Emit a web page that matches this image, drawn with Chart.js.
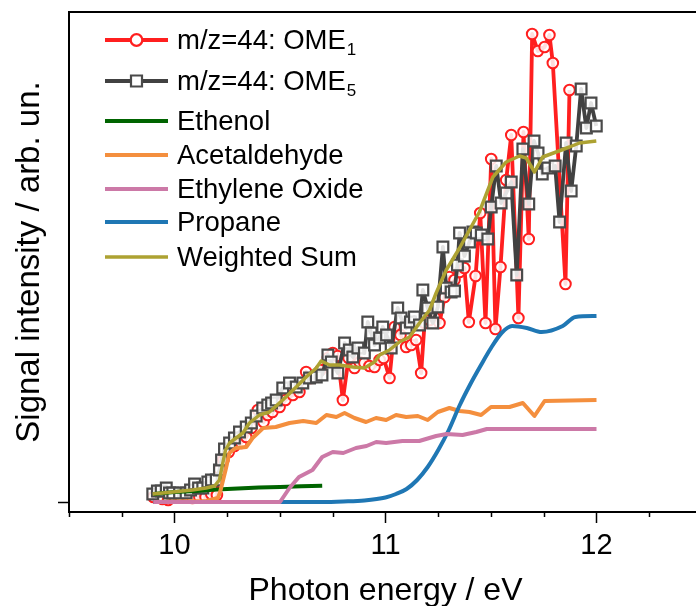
<!DOCTYPE html>
<html>
<head>
<meta charset="utf-8">
<script src="https://cdn.jsdelivr.net/npm/chart.js@4.4.0/dist/chart.umd.min.js"></script>
<style>
  html, body { margin: 0; padding: 0; background: #fff; overflow: hidden; }
  #grafico { display: block; }
</style>
</head>
<body>
<canvas id="grafico" width="720" height="606"></canvas>
<script>
const fonte = "'Liberation Sans', Arial, sans-serif";

// m/z=44 signal, OME1
const ome1Energy = [9.900, 9.922, 9.943, 9.970, 10.000, 10.028, 10.057, 10.085, 10.118, 10.147,
    10.174, 10.201, 10.213, 10.232, 10.257, 10.284, 10.316, 10.340, 10.365, 10.395,
    10.422, 10.442, 10.464, 10.498, 10.526, 10.561, 10.592, 10.624, 10.645, 10.664,
    10.692, 10.727, 10.750, 10.773, 10.798, 10.825, 10.853, 10.877, 10.900, 10.924,
    10.948, 10.972, 10.991, 11.019, 11.043, 11.071, 11.098, 11.122, 11.145, 11.169,
    11.185, 11.209, 11.232, 11.256, 11.280, 11.303, 11.327, 11.351, 11.374, 11.395,
    11.427, 11.449, 11.474, 11.501, 11.521, 11.545, 11.572, 11.596, 11.630, 11.654,
    11.679, 11.695, 11.722, 11.754, 11.777, 11.793, 11.853, 11.872];
const ome1Signal = [0.05, 0.05, 0.03, 0.02, 0.05, 0.05, 0.06, 0.04, 0.05, 0.05,
    0.08, 0.07, 0.33, 0.42, 0.50, 0.56, 0.59, 0.65, 0.74, 0.92,
    0.80, 0.87, 0.90, 0.95, 1.02, 1.07, 1.10, 1.30, 1.24, 1.25,
    1.32, 1.44, 1.49, 1.46, 1.02, 1.44, 1.34, 1.40, 1.39, 1.36,
    1.35, 1.42, 1.44, 1.24, 1.75, 1.67, 1.55, 1.57, 1.62, 1.29,
    1.79, 1.82, 1.85, 1.79, 2.05, 2.25, 2.22, 2.30, 2.34, 1.80,
    2.26, 2.89, 1.79, 3.43, 1.73, 2.35, 3.22, 3.67, 1.84, 3.70,
    2.63, 4.68, 4.51, 4.55, 4.67, 4.39, 2.18, 4.12];

// m/z=44 signal, OME5
const ome5Energy = [9.897, 9.919, 9.937, 9.961, 9.976, 9.992, 10.024, 10.055, 10.076, 10.095,
    10.114, 10.134, 10.158, 10.175, 10.198, 10.213, 10.223, 10.237, 10.261, 10.284,
    10.308, 10.340, 10.364, 10.387, 10.418, 10.442, 10.460, 10.482, 10.513, 10.545,
    10.577, 10.608, 10.640, 10.672, 10.699, 10.727, 10.743, 10.774, 10.806, 10.829,
    10.845, 10.869, 10.900, 10.916, 10.932, 10.948, 10.972, 10.987, 11.005, 11.027,
    11.058, 11.074, 11.098, 11.118, 11.137, 11.161, 11.177, 11.200, 11.224, 11.248,
    11.272, 11.288, 11.311, 11.327, 11.341, 11.351, 11.374, 11.398, 11.414, 11.430,
    11.454, 11.485, 11.501, 11.525, 11.548, 11.572, 11.596, 11.622, 11.651, 11.679,
    11.704, 11.723, 11.743, 11.769, 11.804, 11.825, 11.856, 11.880, 11.904, 11.927,
    11.952, 11.974, 11.999];
const ome5Signal = [0.08, 0.11, 0.11, 0.14, 0.09, 0.09, 0.09, 0.09, 0.12, 0.18,
    0.14, 0.14, 0.20, 0.22, 0.22, 0.32, 0.42, 0.53, 0.59, 0.64,
    0.70, 0.75, 0.79, 0.86, 0.94, 0.97, 0.99, 1.02, 1.14, 1.19,
    1.15, 1.19, 1.24, 1.25, 1.27, 1.47, 1.40, 1.29, 1.59, 1.52,
    1.45, 1.54, 1.49, 1.80, 1.69, 1.57, 1.64, 1.75, 1.67, 1.54,
    1.94, 1.84, 1.74, 1.80, 1.85, 1.77, 2.12, 1.94, 1.79, 1.95,
    2.55, 2.14, 2.10, 2.11, 2.37, 2.69, 2.46, 2.60, 2.70, 2.69,
    2.67, 2.63, 2.95, 3.36, 2.99, 3.09, 3.20, 2.27, 3.53, 2.98,
    3.61, 3.49, 3.28, 3.34, 3.36, 2.80, 3.59, 3.11, 3.56, 4.13,
    3.74, 3.99, 3.76];

// Referências
const ethenolEnergy = [9.9, 10.0, 10.1, 10.2, 10.3, 10.4, 10.5, 10.6, 10.7];
const ethenolSignal = [0.08, 0.10, 0.11, 0.125, 0.135, 0.145, 0.15, 0.157, 0.163];

const acetaldehydeEnergy = [9.9, 10.15, 10.205, 10.215, 10.242, 10.26, 10.29, 10.34, 10.37, 10.42,
    10.48, 10.545, 10.61, 10.672, 10.72, 10.767, 10.806, 10.853, 10.908, 10.955,
    11.003, 11.05, 11.098, 11.153, 11.2, 11.248, 11.303, 11.351, 11.398, 11.453,
    11.5, 11.588, 11.651, 11.706, 11.754, 12.0];
const acetaldehydeSignal = [0.00, 0.01, 0.04, 0.09, 0.32, 0.49, 0.54, 0.55, 0.64, 0.74,
    0.75, 0.79, 0.81, 0.79, 0.87, 0.85, 0.89, 0.84, 0.80, 0.84,
    0.82, 0.87, 0.85, 0.86, 0.82, 0.90, 0.94, 0.91, 0.90, 0.87,
    0.95, 0.95, 0.99, 0.86, 1.01, 1.02];

const ethyleneOxideEnergy = [9.9, 10.5, 10.545, 10.59, 10.654, 10.70, 10.75, 10.80, 10.86, 10.91,
    10.956, 11.003, 11.08, 11.16, 11.24, 11.29, 11.365, 11.43, 11.48, 11.55, 12.0];
const ethyleneOxideSignal = [0, 0, 0.14, 0.25, 0.32, 0.45, 0.50, 0.49, 0.54, 0.56,
    0.60, 0.59, 0.61, 0.61, 0.66, 0.68, 0.67, 0.70, 0.73, 0.73, 0.73];

const propaneEnergy = [9.9, 10.2, 10.5, 10.7, 10.8, 10.9, 11.0, 11.05, 11.1, 11.15,
    11.2, 11.25, 11.3, 11.35, 11.4, 11.45, 11.5, 11.55, 11.6, 11.67,
    11.74, 11.84, 11.9, 12.0];
const propaneSignal = [0, 0, 0, 0, 0.005, 0.015, 0.045, 0.08, 0.13, 0.22,
    0.35, 0.52, 0.72, 0.96, 1.17, 1.36, 1.54, 1.69, 1.76, 1.74,
    1.70, 1.76, 1.85, 1.86];

const sumEnergy = [9.896, 9.991, 10.085, 10.150, 10.190, 10.213, 10.229, 10.242, 10.261, 10.292,
    10.324, 10.355, 10.403, 10.450, 10.513, 10.577, 10.624, 10.672, 10.695, 10.735,
    10.782, 10.845, 10.900, 10.948, 10.972, 11.019, 11.066, 11.114, 11.161, 11.209,
    11.240, 11.288, 11.351, 11.398, 11.445, 11.509, 11.572, 11.635, 11.667, 11.706,
    11.745, 11.809, 11.872, 11.919, 11.999];
const sumSignal = [0.08, 0.10, 0.12, 0.14, 0.16, 0.22, 0.39, 0.52, 0.59, 0.64,
    0.69, 0.79, 0.87, 0.90, 1.02, 1.15, 1.25, 1.34, 1.41, 1.37,
    1.37, 1.35, 1.34, 1.40, 1.47, 1.52, 1.60, 1.65, 1.79, 1.92,
    2.09, 2.32, 2.54, 2.72, 2.90, 3.25, 3.40, 3.46, 3.44, 3.30,
    3.45, 3.50, 3.55, 3.59, 3.61];

// Nomes da legenda (texto + índice)
const seriesNames = ['m/z=44: OME', 'm/z=44: OME', 'Ethenol', 'Acetaldehyde', 'Ethylene Oxide', 'Propane', 'Weighted Sum'];
const seriesSubs = ['1', '5', '', '', '', '', ''];

// Eixos
const xMin = 9.5, xMax = 12.5;
const yMin = -0.1, yMax = 4.9;

function pontos(xs, ys) {
    return xs.map((x, i) => ({ x: x, y: ys[i] }));
}

function ehInteiro(v) {
    return Math.abs(v - Math.round(v)) < 1e-6;
}

// Legenda desenhada à mão (linha + marcador + texto com índice)
const linhasLegenda = [28, 69, 109, 143, 177, 210, 245];
const legendaPlugin = {
    id: 'legenda',
    afterDraw(chart) {
        const { ctx, chartArea } = chart;
        const x0 = chartArea.left + 36;
        const x1 = chartArea.left + 99;
        const xt = chartArea.left + 108;
        const xm = (x0 + x1) / 2;
        ctx.save();
        chart.data.datasets.forEach((ds, i) => {
            const y = chartArea.top + linhasLegenda[i];
            ctx.strokeStyle = ds.borderColor;
            ctx.lineWidth = ds.borderWidth;
            ctx.beginPath();
            ctx.moveTo(x0, y);
            ctx.lineTo(x1, y);
            ctx.stroke();
            if (ds.pointRadius > 0) {
                ctx.fillStyle = '#fff';
                ctx.strokeStyle = ds.pointBorderColor;
                ctx.lineWidth = 2.2;
                ctx.beginPath();
                if (ds.pointStyle === 'rect') {
                    ctx.rect(xm - 5.5, y - 5.5, 11, 11);
                } else {
                    ctx.arc(xm, y, 5.8, 0, Math.PI * 2);
                }
                ctx.fill();
                ctx.stroke();
            }
            ctx.fillStyle = '#000';
            ctx.textAlign = 'left';
            ctx.textBaseline = 'middle';
            ctx.font = `27.5px ${fonte}`;
            ctx.fillText(seriesNames[i], xt, y + 1);
            if (seriesSubs[i]) {
                const w = ctx.measureText(seriesNames[i]).width;
                ctx.font = `17px ${fonte}`;
                ctx.fillText(seriesSubs[i], xt + w + 1, y + 10);
            }
        });
        ctx.restore();
    }
};

// Moldura superior e ticks menores do eixo x
const molduraPlugin = {
    id: 'moldura',
    afterDraw(chart) {
        const { ctx, chartArea } = chart;
        const sx = chart.scales.x;
        ctx.save();
        ctx.strokeStyle = '#000';
        ctx.lineWidth = 2;
        ctx.beginPath();
        ctx.moveTo(chartArea.left, chartArea.top);
        ctx.lineTo(chartArea.right, chartArea.top);
        ctx.lineTo(chartArea.right, chartArea.bottom);
        ctx.stroke();
        ctx.lineWidth = 1.5;
        for (let v = xMin; v <= xMax + 1e-9; v += 0.25) {
            if (ehInteiro(v)) continue;
            const px = Math.round(sx.getPixelForValue(v)) + 0.5;
            ctx.beginPath();
            ctx.moveTo(px, chartArea.bottom);
            ctx.lineTo(px, chartArea.bottom + 5);
            ctx.stroke();
        }
        ctx.restore();
    }
};

const ctx = document.getElementById('grafico').getContext('2d');
new Chart(ctx, {
    type: 'line',
    data: {
        datasets: [
            { data: pontos(ome1Energy, ome1Signal), borderColor: '#ff1f1f', borderWidth: 3.8,
              pointStyle: 'circle', pointRadius: 5.3, pointBorderWidth: 2,
              pointBorderColor: '#ff1f1f', pointBackgroundColor: 'rgba(255,255,255,0.85)', order: 7 },
            { data: pontos(ome5Energy, ome5Signal), borderColor: '#414141', borderWidth: 3.8,
              pointStyle: 'rect', pointRadius: 7.6, pointBorderWidth: 2.2,
              pointBorderColor: '#4a4a4a', pointBackgroundColor: 'rgba(255,255,255,0.85)', order: 6 },
            { data: pontos(ethenolEnergy, ethenolSignal), borderColor: '#006400', borderWidth: 4, pointRadius: 0, order: 5 },
            { data: pontos(acetaldehydeEnergy, acetaldehydeSignal), borderColor: '#f48f3e', borderWidth: 4, pointRadius: 0, order: 4 },
            { data: pontos(ethyleneOxideEnergy, ethyleneOxideSignal), borderColor: '#cc79a7', borderWidth: 4, pointRadius: 0, order: 2 },
            { data: pontos(propaneEnergy, propaneSignal), borderColor: '#1f77b4', borderWidth: 4, pointRadius: 0,
              cubicInterpolationMode: 'monotone', order: 3 },
            { data: pontos(sumEnergy, sumSignal), borderColor: '#ada232', borderWidth: 3.5, pointRadius: 0, order: 1 }
        ]
    },
    options: {
        responsive: false,
        animation: false,
        layout: { padding: { top: 12, right: 18, left: 0, bottom: 0 } },
        plugins: { legend: { display: false }, tooltip: { enabled: false } },
        elements: { line: { tension: 0, borderJoinStyle: 'round' } },
        scales: {
            x: {
                type: 'linear', min: xMin, max: xMax,
                ticks: {
                    stepSize: 0.25, autoSkip: false, maxRotation: 0, color: '#000', padding: 6,
                    font: { family: fonte, size: 29 },
                    callback: v => ehInteiro(v) ? String(Math.round(v)) : ''
                },
                grid: {
                    drawOnChartArea: false, tickLength: 11, tickWidth: 1.5,
                    tickColor: c => ehInteiro(c.tick.value) ? '#000' : 'rgba(0,0,0,0)'
                },
                border: { color: '#000', width: 2 },
                title: {
                    display: true, text: 'Photon energy / eV', color: '#000',
                    font: { family: fonte, size: 32, lineHeight: 1 }, padding: { top: 0, bottom: -1 }
                },
                afterFit: s => { s.height = 94; }
            },
            y: {
                min: yMin, max: yMax,
                afterBuildTicks: s => { s.ticks = [{ value: 0 }]; },
                ticks: { callback: () => '', padding: 0 },
                grid: { drawOnChartArea: false, tickLength: 11, tickWidth: 1.5, tickColor: '#000' },
                border: { color: '#000', width: 2 },
                title: {
                    display: true, text: 'Signal intensity / arb. un.', color: '#000',
                    font: { family: fonte, size: 33, lineHeight: 1 }, padding: { top: 13, bottom: 0 }
                },
                afterFit: s => { s.width = 69; }
            }
        }
    },
    plugins: [legendaPlugin, molduraPlugin]
});
</script>
</body>
</html>
